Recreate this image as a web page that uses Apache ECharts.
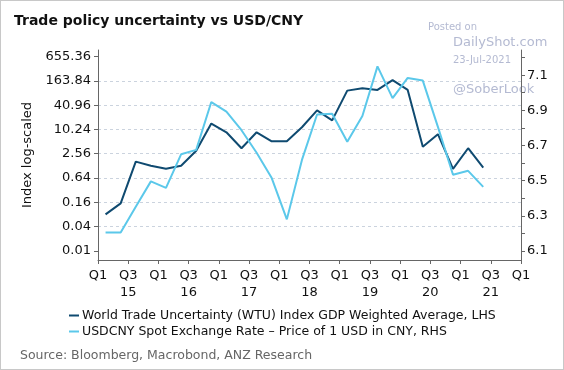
<!DOCTYPE html>
<html><head><meta charset="utf-8">
<script src="https://cdn.jsdelivr.net/npm/echarts@6/dist/echarts.min.js"></script>
<style>html,body{margin:0;padding:0;background:#fff}#c{width:564px;height:370px;box-sizing:border-box;border:1px solid #c8c8c8}</style>
</head><body><div id="c"></div>
<script>
// Quarters (data centred mid-quarter), 2015Q1 .. 2021Q2
const quarters = ['2015Q1','2015Q2','2015Q3','2015Q4','2016Q1','2016Q2','2016Q3','2016Q4','2017Q1','2017Q2','2017Q3','2017Q4','2018Q1','2018Q2','2018Q3','2018Q4','2019Q1','2019Q2','2019Q3','2019Q4','2020Q1','2020Q2','2020Q3','2020Q4','2021Q1','2021Q2'];
// WTU index (LHS, log scale)
const wtu = [0.08,0.15,1.63,1.28,1.08,1.28,3.03,14.3,8.7,3.5,8.7,5.2,5.2,11.6,30.3,17.2,94,107,98,172,98,3.8,7.8,1.08,3.5,1.16];
// USDCNY (RHS)
const usdcny = [6.205,6.205,6.352,6.496,6.459,6.65,6.675,6.947,6.893,6.787,6.659,6.515,6.28,6.618,6.876,6.881,6.721,6.868,7.15,6.969,7.084,7.069,6.806,6.534,6.556,6.465];
const leftTicks = [0.01,0.04,0.16,0.64,2.56,10.24,40.96,163.84,655.36];
const rightTicks = [6.1,6.2,6.3,6.4,6.5,6.6,6.7,6.8,6.9,7.0,7.1,7.2];
const rightLabels = [6.1,6.3,6.5,6.7,6.9,7.1];
const yearLabels = ['15','16','17','18','19','20','21'];

const SCALE = 100; // log axis in hundredths so ticks fall on powers of 4
const lhsMin = 0.0059*SCALE, lhsMax = 956.7*SCALE;
const FONT = 'DejaVu Sans';
const chart = echarts.init(document.getElementById('c'), null, {renderer:'canvas'});
const xs = quarters.map((q,i)=>i+0.5);
const name1 = 'World Trade Uncertainty (WTU) Index GDP Weighted Average, LHS';
const name2 = 'USDCNY Spot Exchange Rate \u2013 Price of 1 USD in CNY, RHS';
chart.setOption({
  animation:false,
  textStyle:{fontFamily:FONT},
  title:{text:'Trade policy uncertainty vs USD/CNY',left:8,top:8,textStyle:{fontFamily:FONT,fontSize:14,fontWeight:'bold',color:'#111'}},
  grid:{left:97,right:42,top:49,bottom:109,containLabel:false},
  legend:{orient:'vertical',left:68,top:308,padding:0,itemWidth:10,itemHeight:2,itemGap:3,icon:'rect',
    textStyle:{fontFamily:FONT,fontSize:12.5,color:'#111',padding:[0,0,0,-2]},
    data:[name1,name2]},
  graphic:[
    {type:'text',left:19,top:348,style:{text:'Source: Bloomberg, Macrobond, ANZ Research',fill:'#666',font:'12.5px "DejaVu Sans"'}},
    {type:'text',left:427,top:21,style:{text:'Posted on',fill:'#b4bad2',font:'10px "DejaVu Sans"'}},
    {type:'text',left:452,top:35,style:{text:'DailyShot.com',fill:'#b4bad2',font:'13px "DejaVu Sans"'}},
    {type:'text',left:452,top:54,style:{text:'23-Jul-2021',fill:'#b4bad2',font:'10px "DejaVu Sans"'}},
    {type:'text',left:452,top:82,style:{text:'@SoberLook',fill:'#b4bad2',font:'13px "DejaVu Sans"'}}
  ],
  xAxis:{type:'value',min:0,max:28,interval:2,
    axisLine:{lineStyle:{color:'#666'}},
    axisTick:{show:true,length:4,lineStyle:{color:'#666'}},
    splitLine:{show:false},
    axisLabel:{color:'#111',fontSize:13,fontFamily:FONT,margin:7,lineHeight:17,
      formatter:v=>{const q=Math.round(v); if(q%4===0) return 'Q1'; return 'Q3\n'+(yearLabels[Math.floor(q/4)]||'');}}},
  yAxis:[
    {type:'log',logBase:4,min:lhsMin,max:lhsMax,position:'left',
      name:'Index log-scaled',nameLocation:'middle',nameRotate:90,nameGap:64,
      nameTextStyle:{fontFamily:FONT,fontSize:13,color:'#111'},
      axisLine:{show:true,lineStyle:{color:'#666'}},
      axisTick:{show:true,length:4,lineStyle:{color:'#666'},customValues:leftTicks.map(v=>v*SCALE)},
      axisLabel:{color:'#111',fontSize:13,fontFamily:FONT,margin:7,customValues:leftTicks.map(v=>v*SCALE),
        formatter:v=>String(+(v/SCALE).toFixed(2))},
      splitLine:{show:true,showMinLine:false,showMaxLine:false,lineStyle:{color:'#cbd3de',type:[3,3],width:1}}},
    {type:'value',min:6.049,max:7.243,position:'right',
      axisLine:{show:true,lineStyle:{color:'#666'}},
      axisTick:{show:true,length:4,lineStyle:{color:'#666'},customValues:rightTicks},
      axisLabel:{color:'#111',fontSize:13,fontFamily:FONT,margin:6,customValues:rightLabels,formatter:v=>v.toFixed(1)},
      splitLine:{show:false}}
  ],
  series:[
    {name:name1,type:'line',yAxisIndex:0,symbol:'none',
      lineStyle:{color:'#0f4a70',width:2},itemStyle:{color:'#0f4a70'},
      data:wtu.map((v,i)=>[xs[i],v*SCALE])},
    {name:name2,type:'line',yAxisIndex:1,symbol:'none',
      lineStyle:{color:'#5bc8ea',width:2},itemStyle:{color:'#5bc8ea'},
      data:usdcny.map((v,i)=>[xs[i],v])}
  ]
});
</script></body></html>
